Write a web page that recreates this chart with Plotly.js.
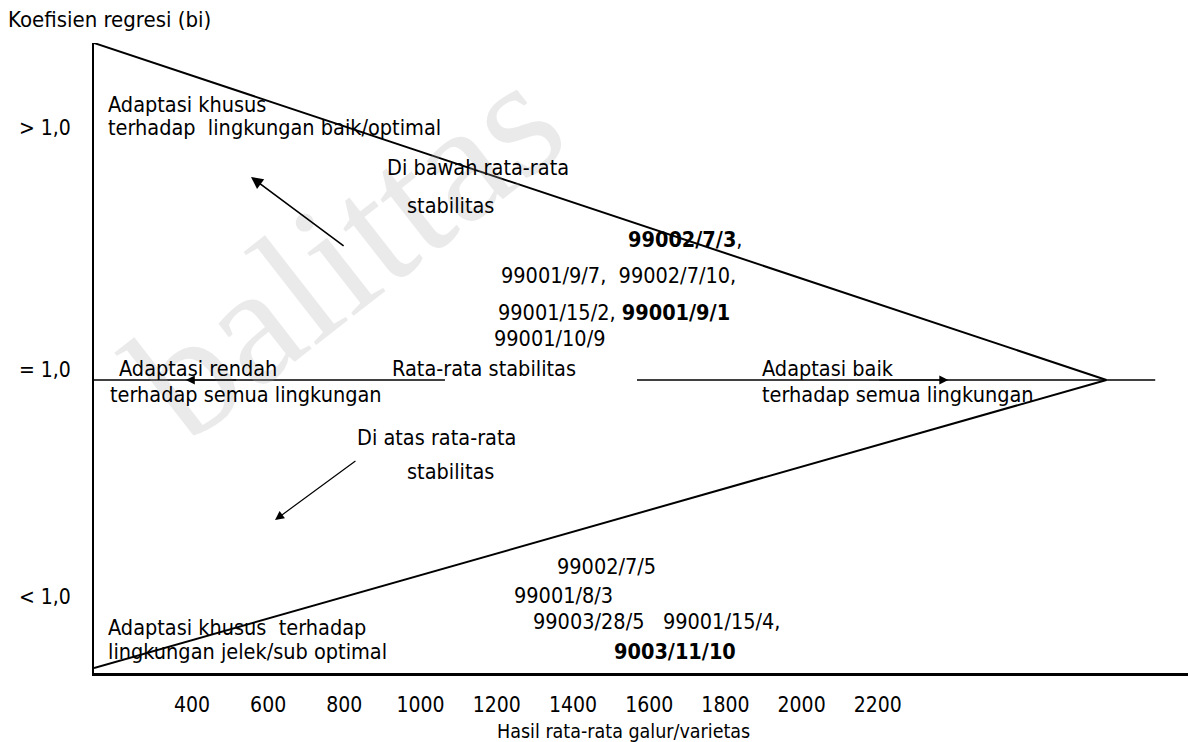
<!DOCTYPE html>
<html>
<head>
<meta charset="utf-8">
<script src="https://cdn.plot.ly/plotly-3.0.1.min.js"></script>
<style>html,body{margin:0;padding:0;background:#fff;}#chart{width:1188px;height:742px;}</style>
</head>
<body>
<div id="chart"></div>
<script>
// ---- data ----
const xTickVals = [400, 600, 800, 1000, 1200, 1400, 1600, 1800, 2000, 2200];
const xTickText = ['400', '600', '800', '1000', '1200', '1400', '1600', '1800', '2000', '2200'];
const yTickVals = [1.86, 1.034, 0.26];
const yTickText = ['> 1,0', '= 1,0', '< 1,0'];
const xTitle = 'Hasil rata-rata galur/varietas';
const yTitle = 'Koefisien regresi (bi)';
const aboveGroup = ['<b>99002/7/3</b>,', '99001/9/7,  99002/7/10,', '99001/15/2, <b>99001/9/1</b>', '99001/10/9'];
const belowGroup = ['99002/7/5', '99001/8/3', '99003/28/5   99001/15/4,', '<b>9003/11/10</b>'];
const zoneLabels = [
  'Adaptasi khusus', 'terhadap  lingkungan baik/optimal',
  'Di bawah rata-rata', 'stabilitas',
  'Adaptasi rendah', 'terhadap semua lingkungan',
  'Rata-rata stabilitas',
  'Adaptasi baik', 'terhadap semua lingkungan',
  'Di atas rata-rata', 'stabilitas',
  'Adaptasi khusus  terhadap', 'lingkungan jelek/sub optimal'
];
const watermark = 'balittas';
// triangle outline (yield, bi) and the average-stability line
const triX = [143, 2800, 143];
const triY = [2.15, 1.0, 0.017];
const midLeftX = [143, 1064];
const midRightX = [1568, 2928];
const midY = 1.0;

// ---- layout ----
const FONT = "'DejaVu Sans Condensed', 'DejaVu Sans', sans-serif";
const FS = 21.5;
const tf = (size) => ({family: FONT, size: size || FS, color: '#000'});

const traces = [
  {x: triX, y: triY, mode: 'lines', line: {color: '#000', width: 2}, hoverinfo: 'skip'},
  {x: midLeftX, y: [midY, midY], mode: 'lines', line: {color: '#000', width: 1.6}, hoverinfo: 'skip'},
  {x: midRightX, y: [midY, midY], mode: 'lines', line: {color: '#000', width: 1.6}, hoverinfo: 'skip'}
];

function txt(text, x, y) {
  return {text: text, x: x, y: y, xref: 'x', yref: 'y', xanchor: 'left', yanchor: 'middle',
    showarrow: false, font: tf()};
}
function arrow(xTip, yTip, xTail, yTail, w, s) {
  return {x: xTip, y: yTip, ax: xTail, ay: yTail, xref: 'x', yref: 'y', axref: 'x', ayref: 'y',
    text: '', showarrow: true, arrowhead: 2, arrowsize: s, arrowwidth: w, arrowcolor: '#000'};
}

const annotations = [
  {text: watermark, x: (345 - 94) / 1094, y: (673 - 250) / 630, xref: 'paper', yref: 'paper',
   xanchor: 'center', yanchor: 'middle', showarrow: false, textangle: -38,
   font: {family: "'Liberation Serif', serif", size: 170, color: 'rgba(170,170,170,0.25)'}},
  txt(zoneLabels[0], 174, 1.939),
  txt(zoneLabels[1], 174, 1.860),
  txt(zoneLabels[2], 907, 1.724),
  txt(zoneLabels[3], 959, 1.597),
  txt(aboveGroup[0], 1539, 1.478),
  txt(aboveGroup[1], 1206, 1.358),
  txt(aboveGroup[2], 1198, 1.232),
  txt(aboveGroup[3], 1188, 1.140),
  txt(zoneLabels[4], 203, 1.038),
  txt(zoneLabels[5], 180, 0.949),
  txt(zoneLabels[6], 920, 1.038),
  txt(zoneLabels[7], 1891, 1.038),
  txt(zoneLabels[8], 1891, 0.949),
  txt(zoneLabels[9], 828, 0.805),
  txt(zoneLabels[10], 959, 0.686),
  txt(belowGroup[0], 1353, 0.362),
  txt(belowGroup[1], 1240, 0.263),
  txt(belowGroup[2], 1290, 0.176),
  txt(belowGroup[3], 1503, 0.072),
  txt(zoneLabels[11], 174, 0.157),
  txt(zoneLabels[12], 174, 0.072),
  {text: yTitle, x: (6 - 94) / 1094, y: 1 + (43 - 20) / 630, xref: 'paper', yref: 'paper',
   xanchor: 'left', yanchor: 'middle', showarrow: false, font: tf(22)},
  {text: xTitle, x: (623 - 94) / 1094, y: (673 - 731) / 630, xref: 'paper', yref: 'paper',
   xanchor: 'center', yanchor: 'middle', showarrow: false, font: tf(19.5)},
  arrow(555, 1.693, 802, 1.454, 1.6, 1.5),
  arrow(618, 0.522, 833, 0.727, 1.2, 1.5),
  arrow(384, midY, 520, midY, 1.2, 1.5),
  arrow(2385, midY, 2200, midY, 1.2, 1.5)
];

const layout = {
  width: 1188, height: 742,
  margin: {l: 94, r: 0, t: 43, b: 69},
  paper_bgcolor: '#fff', plot_bgcolor: '#fff',
  showlegend: false,
  xaxis: {range: [143, 3014], tickvals: xTickVals, ticktext: xTickText, showgrid: false, zeroline: false,
    showline: true, linecolor: '#000', linewidth: 3, ticks: '', ticklabelstandoff: 11,
    tickfont: tf(21)},
  yaxis: {range: [0, 2.15], tickvals: yTickVals, ticktext: yTickText, showgrid: false, zeroline: false,
    showline: true, linecolor: '#000', linewidth: 2, ticks: '', ticklabelstandoff: 17,
    tickfont: tf(21)},
  annotations: annotations
};

Plotly.newPlot('chart', traces, layout, {staticPlot: true, displayModeBar: false});
</script>
</body>
</html>
